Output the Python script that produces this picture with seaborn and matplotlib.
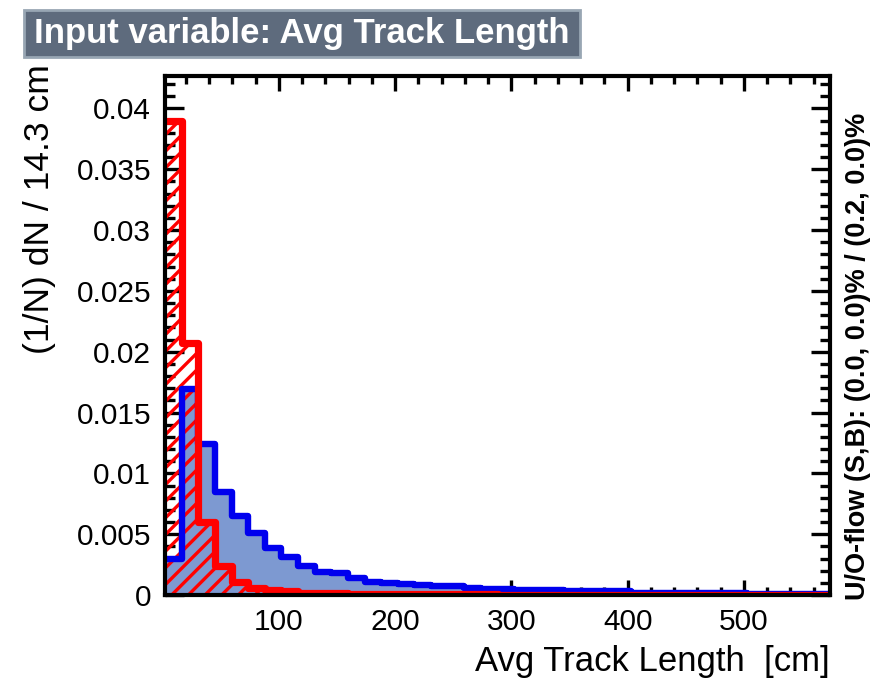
import numpy as np
import pandas as pd
import matplotlib
matplotlib.use("Agg")
import matplotlib.pyplot as plt
import seaborn as sns
from matplotlib.ticker import MultipleLocator, FuncFormatter
from matplotlib.patches import Rectangle

# ---------------- data ----------------
x_min = 2.0
bin_width = 14.3
n_bins = 40

signal = [0.0030, 0.0169, 0.0124, 0.0085, 0.0065, 0.0051, 0.0039, 0.0031, 0.0024, 0.0019,
          0.0018, 0.0014, 0.0011, 0.0010, 0.0009, 0.0008, 0.0007, 0.0007, 0.0006, 0.0005,
          0.0005, 0.0004, 0.0004, 0.0004, 0.0003, 0.0003, 0.0003, 0.0003, 0.0002, 0.0002,
          0.0002, 0.0002, 0.0002, 0.0002, 0.0002, 0.0001, 0.0001, 0.0001, 0.0001, 0.0001]
background = [0.0390, 0.0207, 0.0060, 0.0024, 0.0011, 0.0006, 0.0004, 0.0003, 0.0002, 0.0002,
              0.00015, 0.00012, 0.0001, 0.0001, 0.00008, 0.00008, 0.00006, 0.00006, 0.00005, 0.00005,
              0.00004, 0.00004, 0.00004, 0.00003, 0.00003, 0.00003, 0.00003, 0.00002, 0.00002, 0.00002,
              0.00002, 0.00002, 0.00002, 0.00001, 0.00001, 0.00001, 0.00001, 0.00001, 0.00001, 0.00001]

title_text = "Input variable: Avg Track Length"
xlabel_text = "Avg Track Length  [cm]"
ylabel_text = "(1/N) dN / 14.3 cm"
overflow_text = "U/O-flow (S,B): (0.0, 0.0)% / (0.2, 0.0)%"

x_max = x_min + bin_width * n_bins
centers = x_min + bin_width * (np.arange(n_bins) + 0.5)
df = pd.DataFrame({"x": centers, "sig": signal, "bkg": background})

# ---------------- style ----------------
sns.set_theme(style="ticks")
plt.rcParams["font.family"] = ["Liberation Sans", "DejaVu Sans"]
plt.rcParams["hatch.linewidth"] = 2.4
plt.rcParams["hatch.color"] = "#ff0000"

fig = plt.figure(figsize=(8.83, 6.83), dpi=100)
ax = fig.add_axes([165 / 883, 1 - 595 / 683, (830 - 165) / 883, (595 - 76) / 683])

sig_fill = "#7d99d1"
sig_line = "#0000ee"
bkg_line = "#ff0000"

hist_kw = dict(data=df, x="x", bins=n_bins, binrange=(x_min, x_max), element="step", ax=ax)

# signal fill + outline
sns.histplot(weights="sig", fill=True, color=sig_fill, facecolor=sig_fill, edgecolor="none",
             linewidth=0, alpha=1, **hist_kw)
sns.histplot(weights="sig", fill=False, color=sig_line, linewidth=4.6, **hist_kw)
# background hatch + outline
sns.histplot(weights="bkg", fill=True, color=bkg_line, facecolor="none", edgecolor=bkg_line,
             linewidth=0, hatch="//", **hist_kw)
sns.histplot(weights="bkg", fill=False, color=bkg_line, linewidth=5.2, **hist_kw)

ax.set_xlim(x_min, x_max)
ax.set_ylim(0, 0.04266)
ax.set_xlabel("")
ax.set_ylabel("")

ax.xaxis.set_major_locator(MultipleLocator(100))
ax.xaxis.set_minor_locator(MultipleLocator(20))
ax.yaxis.set_major_locator(MultipleLocator(0.005))
ax.yaxis.set_minor_locator(MultipleLocator(0.001))
ax.yaxis.set_major_formatter(FuncFormatter(lambda v, p: f"{round(v, 4):g}"))

for s in ax.spines.values():
    s.set_linewidth(3.0)
    s.set_color("black")
    s.set_visible(True)
    s.set_zorder(10)

ax.tick_params(axis="both", which="both", direction="in", top=True, right=True,
               color="black", width=2.4, labelsize=21.5, labelcolor="black")
ax.tick_params(axis="x", which="major", length=11, pad=9)
ax.tick_params(axis="x", which="minor", length=5.5)
ax.tick_params(axis="y", which="major", length=14, pad=10)
ax.tick_params(axis="y", which="minor", length=7)

# axis titles
fig.text(40 / 883, 1 - 64 / 683, ylabel_text, rotation=90, ha="center", va="top",
         fontsize=25.5, color="black")
fig.text(830 / 883, 1 - 661 / 683, xlabel_text, ha="right", va="center",
         fontsize=25, color="black")
fig.text(858 / 883, 1 - 600 / 683, overflow_text, rotation=90, ha="center", va="bottom",
         fontsize=19.5, fontweight="bold", color="black")

# title box
fig.patches.append(Rectangle((24 / 883, 1 - 57 / 683), (580 - 24) / 883, 47 / 683,
                             transform=fig.transFigure, facecolor="#5e6b7d",
                             edgecolor="#98a6b3", linewidth=2.0, zorder=1))
fig.text(302 / 883, 1 - 33 / 683, title_text, ha="center", va="center",
         fontsize=25, fontweight="bold", color="white", zorder=2)

fig.savefig("out.png", dpi=100)
